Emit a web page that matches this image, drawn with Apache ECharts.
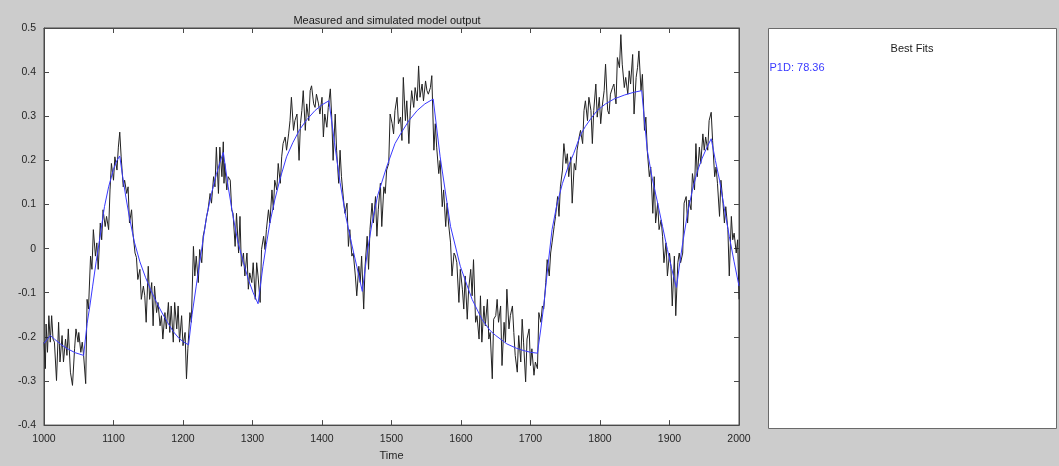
<!DOCTYPE html>
<html><head><meta charset="utf-8">
<script src="https://cdn.jsdelivr.net/npm/echarts@6/dist/echarts.min.js"></script>
<style>html,body{margin:0;padding:0;background:#cccccc}#c{width:1059px;height:466px}</style>
</head><body><div id="c"></div>
<script>
const measuredTime = [1000,1002,1003,1005,1007,1009,1011,1013,1015,1018,1020,1021,1023,1026,1028,1031,1033,1035,1038,1041,1044,1046,1049,1050,1053,1055,1057,1060,1062,1064,1067,1069,1071,1074,1076,1078,1081,1083,1085,1088,1090,1093,1095,1097,1100,1102,1105,1107,1109,1111,1114,1116,1119,1121,1123,1126,1128,1131,
1133,1135,1138,1140,1143,1145,1147,1150,1152,1155,1157,1159,1162,1164,1167,1169,1171,1174,1176,1179,1181,1183,1186,1188,1191,1193,1195,1198,1200,1203,1205,1207,1210,1212,1215,1217,1219,1222,1224,1227,1229,1231,1234,1236,1239,1241,1244,1246,1248,1251,1253,1256,1258,
1259,1260,1263,1265,1268,1270,1272,1275,1277,1280,1282,1284,1287,1289,1292,1294,1296,1299,1301,1304,1306,1308,1311,1313,1316,1318,1320,1323,1325,1328,1330,1332,1335,1337,1340,1342,1344,1347,1349,1352,1354,1356,1359,1361,1364,1367,1369,1371,1373,1376,1378,1381,1383,1385,1388,
1390,1392,1395,1397,1400,1402,1404,1407,1409,1412,1414,1416,1419,1421,1424,1426,1428,1431,1433,1436,1438,1440,1443,1445,1448,1450,1453,1455,1457,1460,1462,1465,1467,1469,1472,1474,1477,1479,1481,1484,1486,1489,1491,1493,1496,1498,1501,1503,1505,1508,1510,1513,1515,1517,
1520,1522,1525,1527,1529,1532,1534,1537,1539,1541,1544,1546,1549,1551,1553,1556,1558,1561,1563,1565,1568,1570,1573,1575,1578,1580,1582,1585,1587,1590,1592,1594,1597,1599,1602,1604,1606,1609,1611,1614,1616,1618,1621,1623,1626,1628,1630,1633,1635,1638,1640,1642,1645,1647,
1650,1652,1654,1657,1659,1662,1664,1666,1669,1671,1674,1676,1678,1681,1683,1686,1688,1690,1693,1695,1698,1700,1702,1705,1707,1710,1712,1715,1717,1719,1722,1724,1727,1729,1731,1734,1736,1739,1741,1743,1746,1748,1751,1753,1755,1758,1760,1763,1765,1767,1770,1772,1775,1777,
1779,1782,1784,1787,1789,1791,1794,1796,1799,1801,1803,1806,1808,1811,1813,1815,1818,1820,1823,1825,1828,1830,1832,1835,1837,1840,1842,1844,1847,1849,1852,1854,1856,1859,1861,1864,1866,1868,1871,1873,1876,1878,1880,1883,1885,1888,1890,1892,1895,1897,1900,1902,1904,1907,
1909,1912,1914,1916,1919,1921,1924,1926,1928,1931,1933,1936,1938,1940,1943,1945,1948,1950,1952,1955,1957,1960,1962,1965,1967,1969,1972,1974,1977,1979,1981,1984,1986,1989,1991,1993,1996,1998,2000];
const measuredOutput = [-0.212,-0.272,-0.171,-0.235,-0.152,-0.212,-0.152,-0.205,-0.212,-0.299,-0.212,-0.167,-0.257,-0.197,-0.257,-0.205,-0.242,-0.182,-0.280,-0.310,-0.227,-0.182,-0.212,-0.190,-0.235,-0.212,-0.242,-0.306,-0.115,-0.137,-0.017,-0.047,0.043,-0.017,0.013,-0.047,0.058,0.020,0.088,0.050,0.073,0.043,0.133,0.193,0.155,0.208,0.178,0.230,0.264,0.208,0.140,0.155,0.125,0.140,0.058,0.088,0.035,-0.010,
-0.020,-0.070,-0.047,-0.115,-0.085,-0.107,-0.167,-0.040,-0.115,-0.077,-0.175,-0.085,-0.145,-0.122,-0.175,-0.152,-0.205,-0.145,-0.182,-0.122,-0.190,-0.130,-0.212,-0.122,-0.182,-0.130,-0.212,-0.152,-0.220,-0.190,-0.295,-0.227,-0.145,-0.167,0.005,-0.062,-0.017,-0.077,-0.002,-0.032,0.028,0.043,0.073,0.088,0.125,0.103,0.163,0.140,0.230,0.125,0.230,0.163,0.242,
0.148,0.193,0.133,0.163,0.155,0.088,0.080,0.005,0.080,-0.010,0.073,-0.040,-0.010,-0.062,-0.010,-0.092,-0.055,-0.077,-0.032,-0.115,-0.032,-0.062,-0.122,-0.002,0.028,-0.002,0.043,0.088,0.058,0.133,0.088,0.155,0.133,0.193,0.148,0.208,0.238,0.253,0.223,0.260,0.290,0.343,0.268,0.290,0.305,0.200,0.283,0.313,0.358,0.268,0.328,0.290,0.358,0.369,0.328,
0.320,0.350,0.328,0.305,0.343,0.253,0.305,0.275,0.320,0.362,0.298,0.200,0.305,0.223,0.148,0.223,0.163,0.110,0.080,0.103,0.005,0.043,-0.017,-0.010,-0.062,-0.107,-0.040,-0.077,-0.017,-0.137,-0.040,0.028,-0.047,0.043,0.103,0.058,0.118,0.028,0.088,0.148,0.050,0.140,0.125,0.178,0.193,0.305,0.283,0.260,0.313,0.343,0.283,0.298,0.245,0.388,
0.290,0.335,0.238,0.313,0.358,0.320,0.365,0.335,0.414,0.343,0.373,0.335,0.380,0.358,0.350,0.365,0.392,0.223,0.283,0.230,0.170,0.200,0.095,0.133,0.050,0.103,0.058,0.013,-0.062,-0.010,-0.017,-0.032,-0.122,-0.047,-0.092,-0.137,-0.062,-0.160,-0.092,-0.047,-0.107,-0.025,-0.167,-0.152,-0.205,-0.107,-0.212,-0.130,-0.175,-0.115,-0.205,-0.190,-0.295,-0.160,
-0.152,-0.115,-0.167,-0.130,-0.265,-0.167,-0.212,-0.092,-0.182,-0.152,-0.130,-0.190,-0.242,-0.280,-0.197,-0.257,-0.160,-0.212,-0.302,-0.205,-0.182,-0.265,-0.227,-0.287,-0.257,-0.272,-0.145,-0.167,-0.130,-0.137,-0.077,-0.025,-0.062,-0.010,0.013,0.050,0.073,0.118,0.073,0.140,0.178,0.238,0.193,0.215,0.163,0.208,0.103,0.193,0.178,0.223,0.253,0.268,0.238,0.313,
0.335,0.290,0.343,0.313,0.238,0.313,0.373,0.298,0.343,0.283,0.320,0.358,0.418,0.313,0.305,0.350,0.365,0.373,0.328,0.433,0.410,0.485,0.418,0.365,0.388,0.350,0.403,0.373,0.440,0.305,0.388,0.410,0.448,0.358,0.395,0.268,0.298,0.223,0.163,0.185,0.080,0.163,0.058,0.103,0.043,0.065,0.028,-0.032,0.013,-0.062,-0.010,-0.040,-0.130,-0.017,
-0.152,-0.032,-0.010,-0.032,-0.010,0.103,0.118,0.058,0.110,0.088,0.170,0.133,0.238,0.163,0.230,0.193,0.260,0.223,0.253,0.223,0.290,0.309,0.245,0.163,0.185,0.148,0.073,0.155,0.103,0.058,0.095,0.043,-0.062,0.073,0.020,0.035,-0.010,0.020,-0.115];
const simTime = [1000,1005,1009,1015,1025,1035,1045,1057,1062,1066,1070,1075,1080,1087,1093,1100,1105,1109,1113,1118,1123,1130,1138,1146,1154,1162,1170,1178,1186,1194,1201,1208,1213,1219,1226,1234,1241,1248,1253,1258,1265,1272,1279,1287,1294,1301,1308,1315,1320,1325,1332,1340,1349,1358,1368,1378,1390,1400,1410,1418,1426,1434,1442,1450,1458,1465,1472,1480,1493,1505,1513,1525,1537,1548,1560,1570,1585,1599,1608,1616,1630,1642,1650,1666,1680,1690,1700,1710,1715,1719,1725,1731,1738,1746,1754,1762,1772,1779,1787,1796,1808,1820,1835,1848,1860,1868,1875,1883,1890,1897,1903,1910,1915,1919,1926,1933,1940,1947,1954,1960,1966,1972,1979,1986,1993,2000];
const simOutput = [-0.215,-0.205,-0.197,-0.205,-0.218,-0.228,-0.236,-0.242,-0.17,-0.13,-0.085,-0.03,0.02,0.095,0.14,0.18,0.2,0.21,0.165,0.115,0.07,0.015,-0.03,-0.065,-0.095,-0.122,-0.146,-0.168,-0.188,-0.203,-0.212,-0.218,-0.15,-0.085,-0.01,0.073,0.125,0.168,0.195,0.218,0.14,0.073,0.015,-0.032,-0.07,-0.1,-0.125,-0.04,0.01,0.058,0.11,0.16,0.208,0.24,0.27,0.292,0.313,0.326,0.335,0.24,0.15,0.075,0.015,-0.04,-0.097,-0.01,0.058,0.12,0.185,0.238,0.26,0.29,0.313,0.328,0.339,0.208,0.05,-0.04,-0.08,-0.115,-0.16,-0.186,-0.197,-0.216,-0.226,-0.231,-0.235,-0.237,-0.18,-0.13,-0.04,0.043,0.1,0.148,0.185,0.215,0.258,0.277,0.295,0.313,0.328,0.339,0.348,0.354,0.358,0.223,0.16,0.103,0.05,-0.002,-0.045,-0.088,-0.03,0.013,0.08,0.133,0.175,0.205,0.23,0.249,0.2,0.155,0.09,0.028,-0.03,-0.085];
const chartTitle = 'Measured and simulated model output';
const xAxisName = 'Time';
const fitTitle = 'Best Fits';
const fitLabel = 'P1D: 78.36';

const FONT = '"Liberation Sans", Arial, sans-serif';
const axisColor = '#4a4a4a';
const textColor = '#262626';
const chart = echarts.init(document.getElementById('c'), null, {renderer: 'canvas'});
const measured = measuredTime.map((t, i) => [t, measuredOutput[i]]);
const simulated = simTime.map((t, i) => [t, simOutput[i]]);
const G = {left: 44, top: 28, width: 695, height: 400};
const tick = {show: true, inside: true, length: 5, lineStyle: {color: axisColor, width: 1}};
const line = {show: true, onZero: false, lineStyle: {color: axisColor, width: 1}};
chart.setOption({
  backgroundColor: '#cccccc',
  animation: false,
  grid: {left: G.left, top: G.top, width: G.width, height: G.height, show: true, backgroundColor: '#ffffff', borderColor: axisColor, borderWidth: 1},
  xAxis: [
    {type: 'value', min: 1000, max: 2000, interval: 100, position: 'bottom',
     axisLine: line, axisTick: tick, splitLine: {show: false},
     axisLabel: {color: textColor, fontSize: 10.5, fontFamily: FONT, margin: 9, formatter: v => String(v)},
     name: xAxisName, nameLocation: 'middle', nameGap: 23,
     nameTextStyle: {color: textColor, fontSize: 11, fontFamily: FONT}},
    {type: 'value', min: 1000, max: 2000, interval: 100, position: 'top',
     axisLine: line, axisTick: tick, splitLine: {show: false}, axisLabel: {show: false}}
  ],
  yAxis: [
    {type: 'value', min: -0.4, max: 0.5, interval: 0.1, position: 'left',
     axisLine: line, axisTick: tick, splitLine: {show: false},
     axisLabel: {color: textColor, fontSize: 10.5, fontFamily: FONT, margin: 8,
       formatter: v => String(Math.round(v * 10) / 10)}},
    {type: 'value', min: -0.4, max: 0.5, interval: 0.1, position: 'right',
     axisLine: line, axisTick: tick, splitLine: {show: false}, axisLabel: {show: false}}
  ],
  series: [
    {name: 'Measured', type: 'line', data: measured, xAxisIndex: 0, yAxisIndex: 0,
     showSymbol: false, symbol: 'none', lineStyle: {color: '#222222', width: 1}, z: 2},
    {name: 'P1D', type: 'line', data: simulated, xAxisIndex: 0, yAxisIndex: 0,
     showSymbol: false, symbol: 'none', lineStyle: {color: '#3a3aff', width: 1}, z: 3}
  ],
  graphic: [
    {type: 'text', style: {text: chartTitle, x: 387, y: 21, align: 'center', verticalAlign: 'middle', font: '11px ' + FONT, fill: '#1a1a1a'}},
    {type: 'rect', shape: {x: 768.5, y: 28.5, width: 288, height: 400}, style: {fill: '#ffffff', stroke: '#6a6a6a', lineWidth: 1}},
    {type: 'text', style: {text: fitTitle, x: 912, y: 49, align: 'center', verticalAlign: 'middle', font: '11px ' + FONT, fill: '#1a1a1a'}},
    {type: 'text', style: {text: fitLabel, x: 769.5, y: 68, align: 'left', verticalAlign: 'middle', font: '11px ' + FONT, fill: '#3a3aff'}}
  ]
});
</script></body></html>
